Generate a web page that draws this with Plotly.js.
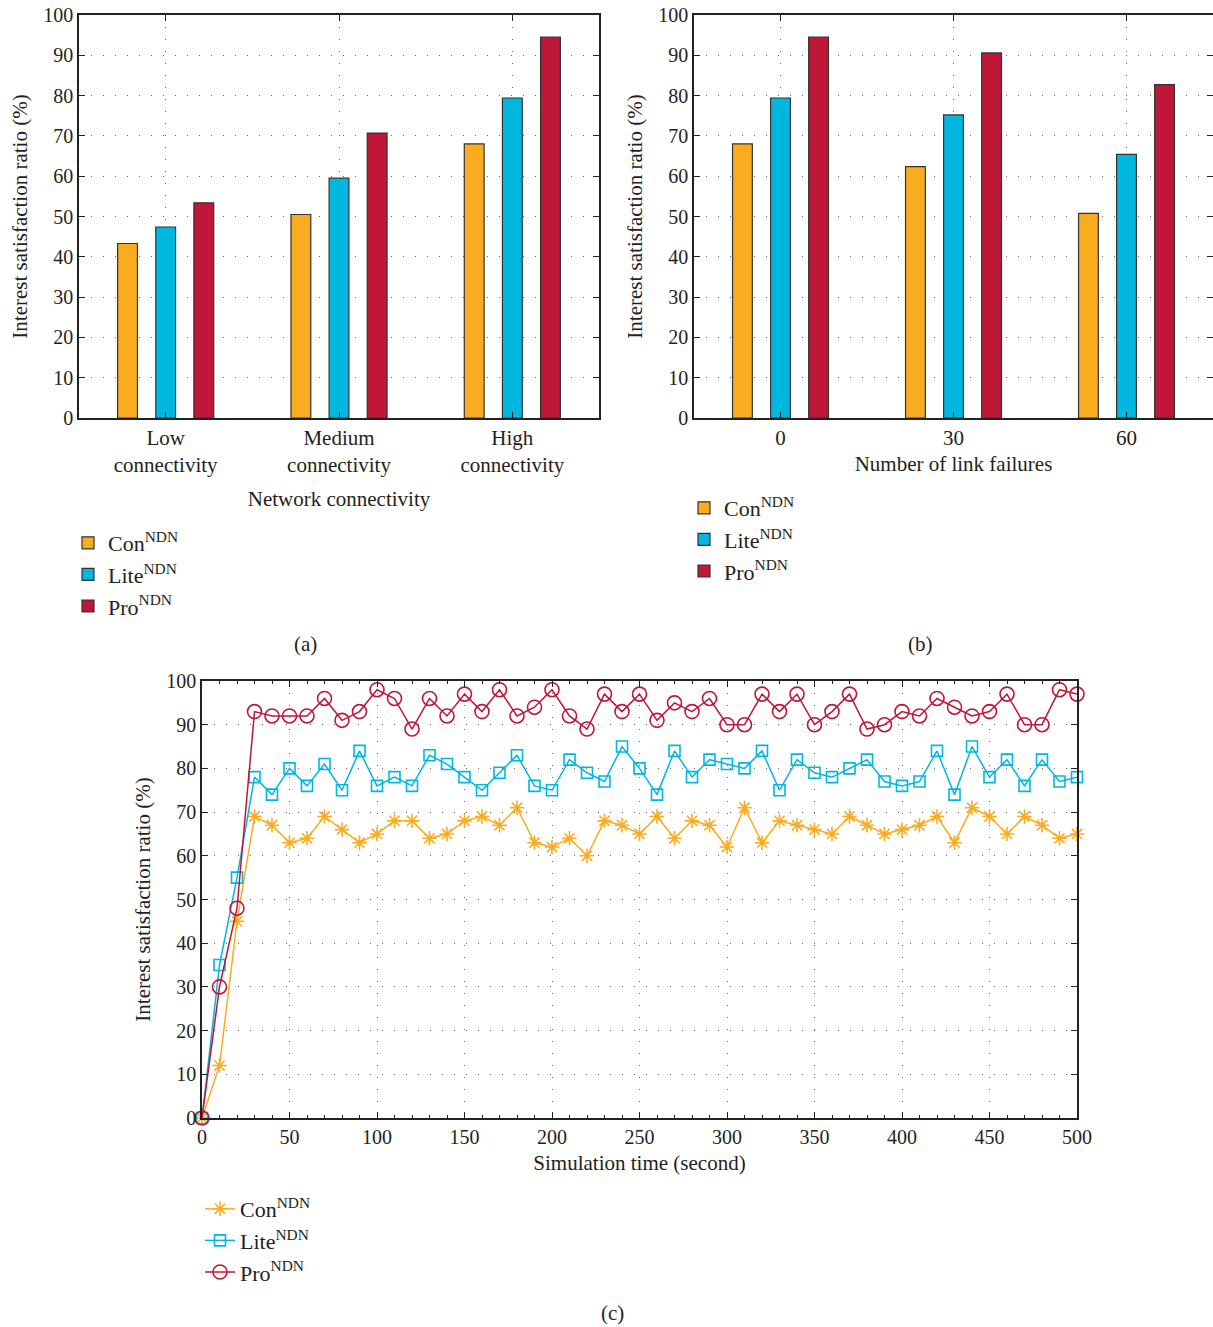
<!DOCTYPE html>
<html><head><meta charset="utf-8">
<script src="https://cdn.plot.ly/plotly-3.0.1.min.js"></script>
<style>html,body{margin:0;padding:0;background:#fff}</style>
</head><body><div id="chart" style="width:1213px;height:1327px"></div>
<script>
// ---------- data ----------
const seriesNames = ['Con<sup>NDN</sup>', 'Lite<sup>NDN</sup>', 'Pro<sup>NDN</sup>'];
const seriesColors = ['#F9AC20', '#00B7DF', '#BF1738'];

const connectivityCats = ['Low<br>connectivity', 'Medium<br>connectivity', 'High<br>connectivity'];
const conConnectivity = [43.3, 50.5, 68.0];
const liteConnectivity = [47.4, 59.5, 79.4];
const proConnectivity = [53.4, 70.7, 94.5];

const failureCats = ['0', '30', '60'];
const conFailures = [68.0, 62.4, 50.8];
const liteFailures = [79.4, 75.2, 65.4];
const proFailures = [94.5, 90.6, 82.7];

const simTime = [0,10,20,30,40,50,60,70,80,90,100,110,120,130,140,150,160,170,180,190,200,
  210,220,230,240,250,260,270,280,290,300,310,320,330,340,350,360,370,380,390,400,
  410,420,430,440,450,460,470,480,490,500];
const conTime = [0,12,45,69,67,63,64,69,66,63,65,68,68,64,65,68,69,67,71,63,62,
  64,60,68,67,65,69,64,68,67,62,71,63,68,67,66,65,69,67,65,66,
  67,69,63,71,69,65,69,67,64,65];
const liteTime = [0,35,55,78,74,80,76,81,75,84,76,78,76,83,81,78,75,79,83,76,75,
  82,79,77,85,80,74,84,78,82,81,80,84,75,82,79,78,80,82,77,76,
  77,84,74,85,78,82,76,82,77,78];
const proTime = [0,30,48,93,92,92,92,96,91,93,98,96,89,96,92,97,93,98,92,94,98,
  92,89,97,93,97,91,95,93,96,90,90,97,93,97,90,93,97,89,90,93,
  92,96,94,92,93,97,90,90,98,97];

// ---------- styling ----------
const W = 1213, H = 1327;
const px = v => v / W;
const py = v => 1 - v / H;
const FONT = 'Liberation Serif, "Times New Roman", serif';
const TXT = '#231f20';
const GRID_DASH = '1px,11px';

function yAxis(domain, anchor) {
  return {
    domain: domain, anchor: anchor, range: [0, 100], dtick: 10,
    ticks: 'inside', ticklen: 6, tickcolor: '#222', mirror: 'ticks',
    showline: true, linecolor: '#222', linewidth: 1.5,
    showgrid: true, gridcolor: '#666', gridwidth: 1, griddash: GRID_DASH,
    zeroline: false, tickfont: {size: 20, color: TXT, family: FONT},
    title: {text: 'Interest satisfaction ratio (%)', font: {size: 21, color: TXT, family: FONT}, standoff: 10},
    fixedrange: true
  };
}
function catAxis(domain, anchor, title, standoff) {
  return {
    domain: domain, anchor: anchor, type: 'category', range: [-0.5, 2.5],
    ticks: 'inside', ticklen: 6, tickcolor: '#222', mirror: 'ticks',
    showline: true, linecolor: '#222', linewidth: 1.5,
    showgrid: true, gridcolor: '#666', gridwidth: 1, griddash: GRID_DASH,
    zeroline: false, tickfont: {size: 21, color: TXT, family: FONT},
    title: {text: title, font: {size: 21, color: TXT, family: FONT}, standoff: standoff},
    fixedrange: true
  };
}

const barLine = {color: '#333', width: 1.2};
const data = [];
const aVals = [conConnectivity, liteConnectivity, proConnectivity];
const bVals = [conFailures, liteFailures, proFailures];
for (let i = 0; i < 3; i++) {
  data.push({
    type: 'bar', x: connectivityCats, y: aVals[i], name: seriesNames[i],
    marker: {color: seriesColors[i], line: barLine},
    xaxis: 'x', yaxis: 'y', legend: 'legend', legendgroup: 'a' + i, hoverinfo: 'skip'
  });
}
for (let i = 0; i < 3; i++) {
  data.push({
    type: 'bar', x: failureCats, y: bVals[i], name: seriesNames[i],
    marker: {color: seriesColors[i], line: barLine},
    xaxis: 'x2', yaxis: 'y2', legend: 'legend2', legendgroup: 'b' + i, hoverinfo: 'skip'
  });
}
const cVals = [conTime, liteTime, proTime];
const symbols = ['asterisk-open', 'square-open', 'circle-open'];
const sizes = [12, 11, 14];
for (let i = 0; i < 3; i++) {
  data.push({
    type: 'scatter', mode: 'lines+markers', x: simTime, y: cVals[i], name: seriesNames[i],
    line: {color: seriesColors[i], width: 1.5},
    marker: {symbol: symbols[i], size: sizes[i], color: seriesColors[i], line: {color: seriesColors[i], width: 1.6}},
    xaxis: 'x3', yaxis: 'y3', legend: 'legend3', legendgroup: 'c' + i, hoverinfo: 'skip', cliponaxis: false
  });
}

function legendAt(x, y) {
  return {
    x: px(x), y: py(y), xanchor: 'left', yanchor: 'top',
    bgcolor: 'rgba(0,0,0,0)', borderwidth: 0,
    font: {size: 22, color: TXT, family: FONT},
    traceorder: 'grouped', tracegroupgap: 0
  };
}

const annFont = {size: 21, color: TXT, family: FONT};
const layout = {
  width: W, height: H,
  margin: {l: 0, r: 0, t: 0, b: 0},
  paper_bgcolor: '#fff', plot_bgcolor: '#fff',
  font: {family: FONT, color: TXT, size: 20},
  barmode: 'group', bargap: 0.34, bargroupgap: 0.48,
  xaxis: catAxis([px(79), px(599)], 'y', 'Network connectivity', 15),
  yaxis: yAxis([py(418), py(15)], 'x'),
  xaxis2: catAxis([px(694), 1], 'y2', 'Number of link failures', 7),
  yaxis2: yAxis([py(418), py(15)], 'x2'),
  xaxis3: {
    domain: [px(202), px(1077)], anchor: 'y3', range: [0, 500], dtick: 50,
    ticks: 'inside', ticklen: 6, tickcolor: '#222', mirror: 'ticks',
    minor: {dtick: 10, ticks: 'inside', ticklen: 3, tickcolor: '#222', showgrid: false},
    showline: true, linecolor: '#222', linewidth: 1.5,
    showgrid: true, gridcolor: '#666', gridwidth: 1, griddash: GRID_DASH,
    zeroline: false, tickfont: {size: 20, color: TXT, family: FONT},
    title: {text: 'Simulation time (second)', font: {size: 21, color: TXT, family: FONT}, standoff: 9},
    fixedrange: true
  },
  yaxis3: yAxis([py(1118), py(681)], 'x3'),
  showlegend: true,
  legend: legendAt(68, 522),
  legend2: legendAt(684, 487),
  legend3: legendAt(200, 1188),
  annotations: [
    {text: '(a)', x: px(305), y: py(644), xref: 'paper', yref: 'paper', xanchor: 'center', yanchor: 'middle', showarrow: false, font: annFont},
    {text: '(b)', x: px(920), y: py(644), xref: 'paper', yref: 'paper', xanchor: 'center', yanchor: 'middle', showarrow: false, font: annFont},
    {text: '(c)', x: px(612), y: py(1313), xref: 'paper', yref: 'paper', xanchor: 'center', yanchor: 'middle', showarrow: false, font: annFont}
  ]
};

Plotly.newPlot('chart', data, layout, {displayModeBar: false, responsive: false});
</script>
</body></html>
